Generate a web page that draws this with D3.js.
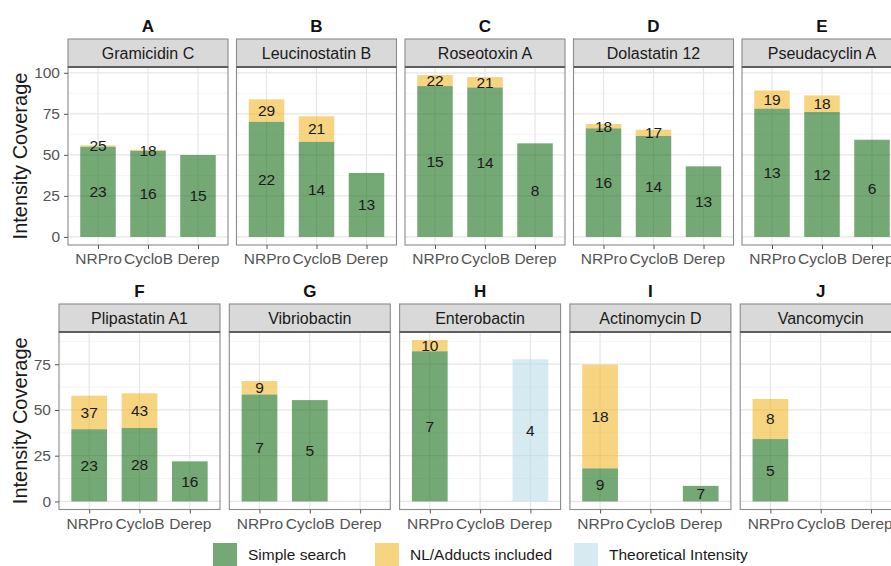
<!DOCTYPE html>
<html>
<head>
<meta charset="utf-8">
<script src="https://cdn.jsdelivr.net/npm/d3@7"></script>
<style>
  html, body { margin: 0; padding: 0; background: #fff; }
  svg { display: block; font-family: "Liberation Sans", Arial, sans-serif; }
</style>
</head>
<body>
<svg id="chart" width="891" height="566"></svg>
<script>
// ---- data -------------------------------------------------------------
const panelLetters = ["A", "B", "C", "D", "E", "F", "G", "H", "I", "J"];
const compounds = ["Gramicidin C", "Leucinostatin B", "Roseotoxin A", "Dolastatin 12",
  "Pseudacyclin A", "Plipastatin A1", "Vibriobactin", "Enterobactin", "Actinomycin D", "Vancomycin"];
const methods = ["NRPro", "CycloB", "Derep"];

// intensity coverage reached by the simple search (NRPro, CycloB, Derep)
const simpleCoverage = [
  [55.0, 52.5, 49.9], [70.2, 58.0, 39.0], [91.9, 91.1, 57.0], [66.2, 61.5, 43.0], [78.2, 76.1, 59.2],
  [39.5, 40.2, 21.9], [58.5, 55.4, null], [82.1, null, null], [18.1, null, 8.5], [34.1, null, null]
];
// total coverage once neutral losses / adducts are included
const adductCoverage = [
  [55.8, 53.1, null], [83.8, 73.5, null], [98.6, 97.4, null], [68.8, 65.3, null], [89.2, 86.2, null],
  [57.8, 59.1, null], [65.8, null, null], [88.2, null, null], [74.8, null, null], [56.0, null, null]
];
// theoretical intensity (only reported where no spectrum match was made)
const theoreticalCoverage = [
  [null, null, null], [null, null, null], [null, null, null], [null, null, null], [null, null, null],
  [null, null, null], [null, null, null], [null, null, 77.7], [null, null, null], [null, null, null]
];
// number of annotated peaks behind each segment
const simpleCounts = [
  [23, 16, 15], [22, 14, 13], [15, 14, 8], [16, 14, 13], [13, 12, 6],
  [23, 28, 16], [7, 5, null], [7, null, null], [9, null, 7], [5, null, null]
];
const adductCounts = [
  [25, 18, null], [29, 21, null], [22, 21, null], [18, 17, null], [19, 18, null],
  [37, 43, null], [9, null, null], [10, null, null], [18, null, null], [8, null, null]
];
const theoreticalCounts = [
  [null, null, null], [null, null, null], [null, null, null], [null, null, null], [null, null, null],
  [null, null, null], [null, null, null], [null, null, 4], [null, null, null], [null, null, null]
];
const rowTicks = [[0, 25, 50, 75, 100], [0, 25, 50, 75]];
const legendLabels = ["Simple search", "NL/Adducts included", "Theoretical Intensity"];

// ---- styling / layout --------------------------------------------------
const colors = {
  simple: "rgb(23,110,23)",
  adduct: "rgb(242,183,42)",
  theo: "rgb(186,220,233)"
};
const barOpacity = 0.6;
const rows = [
  { left: 68, step: 168.5, width: 160, stripTop: 39, panelTop: 67, panelBottom: 245, letterY: 32 },
  { left: 59, step: 170.3, width: 161, stripTop: 304, panelTop: 332, panelBottom: 509.5, letterY: 297 }
];
const tickFont = 15.5;

const svg = d3.select("#chart");
svg.append("rect").attr("width", 891).attr("height", 566).attr("fill", "#fff");

// one y scale per row, padded 5% like ggplot's default expansion
const yScales = rows.map((r, ri) => {
  const idx = d3.range(ri * 5, ri * 5 + 5);
  const maxV = d3.max(idx, i => d3.max([...adductCoverage[i], ...simpleCoverage[i], ...theoreticalCoverage[i]]));
  const pad = maxV * 0.05;
  return d3.scaleLinear().domain([-pad, maxV + pad]).range([r.panelBottom, r.panelTop]);
});

const defs = svg.append("defs");

panelLetters.forEach((letter, i) => {
  const ri = i < 5 ? 0 : 1;
  const col = i % 5;
  const r = rows[ri];
  const y = yScales[ri];
  const x0 = r.left + col * r.step;
  const x = d3.scalePoint().domain(methods).range([x0, x0 + r.width]).padding(0.6);
  const barW = x.step() * 0.71;
  const g = svg.append("g");

  defs.append("clipPath").attr("id", "clip" + i)
    .append("rect").attr("x", x0).attr("y", r.panelTop).attr("width", r.width).attr("height", r.panelBottom - r.panelTop);
  const plot = g.append("g").attr("clip-path", `url(#clip${i})`);

  // grid
  const ticks = rowTicks[ri];
  const minor = d3.range(12.5, y.domain()[1], 25);
  plot.selectAll(".minor").data(minor).join("line")
    .attr("x1", x0).attr("x2", x0 + r.width).attr("y1", d => y(d)).attr("y2", d => y(d))
    .attr("stroke", "#F2F2F2").attr("stroke-width", 0.8);
  plot.selectAll(".major").data(ticks).join("line")
    .attr("x1", x0).attr("x2", x0 + r.width).attr("y1", d => y(d)).attr("y2", d => y(d))
    .attr("stroke", "#E6E6E6").attr("stroke-width", 1.2);
  plot.selectAll(".vmajor").data(methods).join("line")
    .attr("x1", d => x(d)).attr("x2", d => x(d)).attr("y1", r.panelTop).attr("y2", r.panelBottom)
    .attr("stroke", "#E6E6E6").attr("stroke-width", 1.2);

  // bars
  const segs = [];
  methods.forEach((m, mi) => {
    const s = simpleCoverage[i][mi], a = adductCoverage[i][mi], t = theoreticalCoverage[i][mi];
    if (t != null) segs.push({ m, y0: 0, y1: t, fill: colors.theo, label: theoreticalCounts[i][mi] });
    if (s != null) segs.push({ m, y0: 0, y1: s, fill: colors.simple, label: simpleCounts[i][mi] });
    if (a != null) segs.push({ m, y0: s || 0, y1: a, fill: colors.adduct, label: adductCounts[i][mi] });
  });
  plot.selectAll(".bar").data(segs).join("rect")
    .attr("x", d => x(d.m) - barW / 2).attr("width", barW)
    .attr("y", d => y(d.y1)).attr("height", d => y(d.y0) - y(d.y1))
    .attr("fill", d => d.fill).attr("fill-opacity", barOpacity);
  plot.selectAll(".lab").data(segs).join("text")
    .attr("x", d => x(d.m)).attr("y", d => y((d.y0 + d.y1) / 2)).attr("dy", "0.35em")
    .attr("text-anchor", "middle").attr("font-size", tickFont).attr("fill", "#1a1a1a")
    .text(d => d.label);

  // panel border
  g.append("rect").attr("x", x0).attr("y", r.panelTop).attr("width", r.width)
    .attr("height", r.panelBottom - r.panelTop).attr("fill", "none").attr("stroke", "#8a8a8a").attr("stroke-width", 1.1);

  // strip
  g.append("rect").attr("x", x0).attr("y", r.stripTop).attr("width", r.width)
    .attr("height", r.panelTop - r.stripTop).attr("fill", "#D9D9D9").attr("stroke", "#8a8a8a").attr("stroke-width", 1.1);
  g.append("line").attr("x1", x0).attr("x2", x0 + r.width).attr("y1", r.panelTop).attr("y2", r.panelTop)
    .attr("stroke", "#5e5e5e").attr("stroke-width", 2);
  g.append("text").attr("x", x0 + r.width / 2).attr("y", (r.stripTop + r.panelTop) / 2).attr("dy", "0.35em")
    .attr("text-anchor", "middle").attr("font-size", 16).attr("fill", "#1a1a1a").text(compounds[i]);

  // panel letter
  g.append("text").attr("x", x0 + r.width / 2).attr("y", r.letterY)
    .attr("text-anchor", "middle").attr("font-size", 17).attr("font-weight", "bold").attr("fill", "#111")
    .text(letter);

  // x axis
  const xa = g.append("g").attr("transform", `translate(0,${r.panelBottom})`)
    .call(d3.axisBottom(x).tickSize(4).tickPadding(4));
  xa.select(".domain").remove();
  xa.selectAll("line").attr("stroke", "#555");
  xa.selectAll("text").attr("font-size", tickFont).attr("fill", "#555").attr("font-family", "Liberation Sans, Arial, sans-serif");

  // y axis on the first panel of each row
  if (col === 0) {
    const ya = g.append("g").attr("transform", `translate(${x0},0)`)
      .call(d3.axisLeft(y).tickValues(ticks).tickSize(4).tickPadding(4));
    ya.select(".domain").remove();
    ya.selectAll("line").attr("stroke", "#555");
    ya.selectAll("text").attr("font-size", tickFont).attr("fill", "#555").attr("font-family", "Liberation Sans, Arial, sans-serif");
    svg.append("text")
      .attr("transform", `translate(20,${(r.panelTop + r.panelBottom) / 2}) rotate(-90)`)
      .attr("dy", "0.35em").attr("text-anchor", "middle").attr("font-size", 20).attr("fill", "#1a1a1a")
      .text("Intensity Coverage");
  }
});

// legend
const legendItems = [
  { label: legendLabels[0], fill: colors.simple, x: 213 },
  { label: legendLabels[1], fill: colors.adduct, x: 375 },
  { label: legendLabels[2], fill: colors.theo, x: 574 }
];
const lg = svg.append("g");
legendItems.forEach(d => {
  lg.append("rect").attr("x", d.x).attr("y", 543).attr("width", 24).attr("height", 24)
    .attr("fill", d.fill).attr("fill-opacity", barOpacity);
  lg.append("text").attr("x", d.x + 35).attr("y", 560).attr("font-size", tickFont).attr("fill", "#1a1a1a").text(d.label);
});
</script>
</body>
</html>
